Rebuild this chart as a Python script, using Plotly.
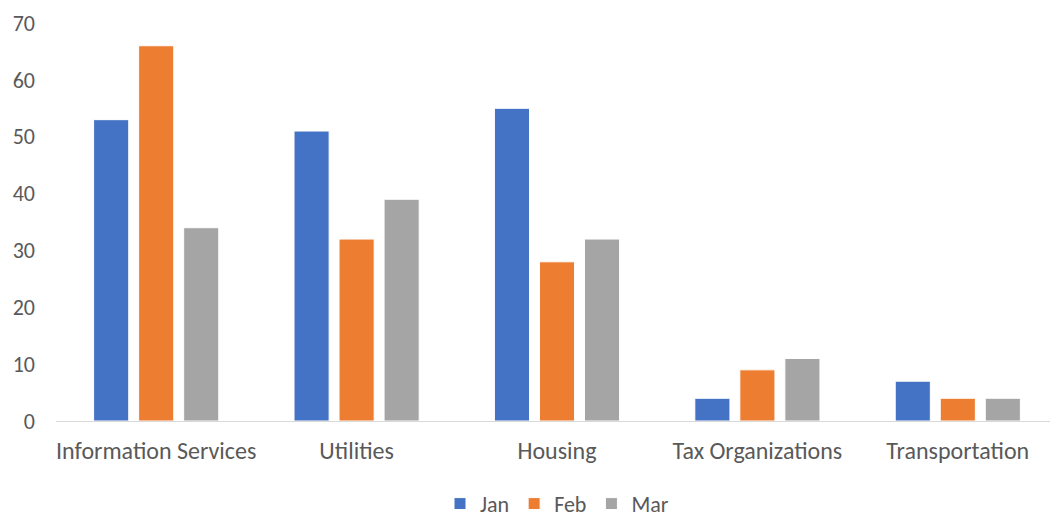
import plotly.graph_objects as go

categories = ["Information Services", "Utilities", "Housing", "Tax Organizations", "Transportation"]
jan = [53, 51, 55, 4, 7]
feb = [66, 32, 28, 9, 4]
mar = [34, 39, 32, 11, 4]
y_ticks = [0, 10, 20, 30, 40, 50, 60, 70]

series = [("Jan", jan, "#4472C4"), ("Feb", feb, "#ED7D31"), ("Mar", mar, "#A5A5A5")]

fig = go.Figure()
for name, vals, color in series:
    fig.add_trace(go.Bar(name=name, x=categories, y=vals, marker=dict(color=color, line=dict(color="white", width=1))))

font = "Carlito, Calibri, Lato, sans-serif"
fig.update_layout(
    width=1050, height=540,
    margin=dict(l=48, r=0, t=15, b=127, autoexpand=False),
    barmode="group", bargap=0.326, bargroupgap=0.22,
    plot_bgcolor="white", paper_bgcolor="white",
    font=dict(family=font, size=24, color="#595959"),
    showlegend=True,
    legend=dict(orientation="h", x=0.5, xanchor="center", y=-0.208, yanchor="middle",
                font=dict(size=22, color="#595959"), itemwidth=30, tracegroupgap=0),
    xaxis=dict(showline=True, linecolor="#D9D9D9", linewidth=1, showgrid=False, ticks="",
               automargin=False,
               ticklabelstandoff=8, tickfont=dict(size=24, color="#595959")),
    yaxis=dict(range=[0, 70], tickvals=y_ticks, showgrid=False, zeroline=False, showline=False,
               automargin=False,
               ticklabelstandoff=20, ticklabeloverflow="allow",
               tickfont=dict(size=22, color="#595959")),
)
fig.write_html("out.html")
